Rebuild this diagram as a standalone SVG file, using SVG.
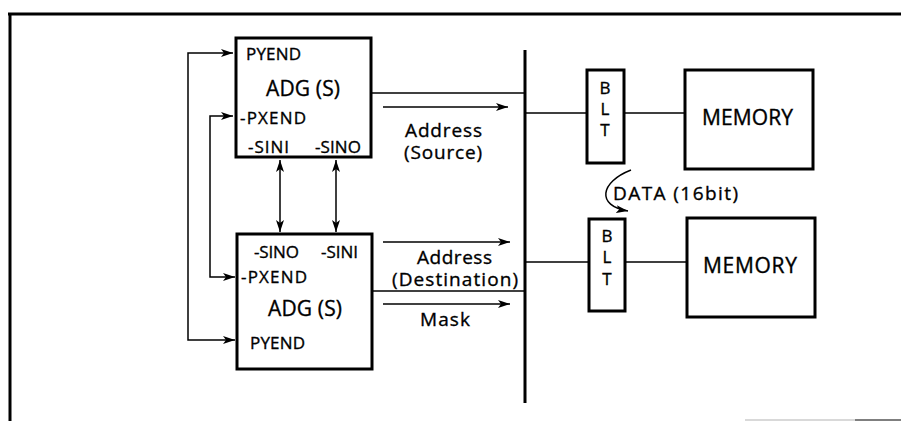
<svg xmlns="http://www.w3.org/2000/svg" width="901" height="421" viewBox="0 0 901 421">
<defs>
<marker id="ah" viewBox="0 0 12 8" refX="12" refY="4" markerWidth="12" markerHeight="8" markerUnits="userSpaceOnUse" orient="auto-start-reverse">
<path d="M0,0 L12,4 L0,8 L3,4 Z" fill="#000"/>
</marker>
</defs>
<style>
.t{font-family:"Open Sans","Liberation Sans",sans-serif;fill:#000;stroke:#000;stroke-width:0.35}
.s{font-size:17px}
.b{font-size:17px}
.m{font-size:19px}
.l{font-size:21px}
.box{fill:#fff;stroke:#000;stroke-width:3}
.ln{fill:none;stroke:#000;stroke-width:1.5}
.bus{fill:none;stroke:#000;stroke-width:3}
</style>
<rect width="901" height="421" fill="#fff"/>
<g id="frame">
<path d="M8,14 H901 M10,14 V421" class="bus"/>
<path d="M745,420 H855" stroke="#ccc" stroke-width="1.5"/>
<path d="M855,420 H901" stroke="#555" stroke-width="1.5"/>
</g>
<g id="connectors">
<path class="bus" d="M525,50 V403"/>
<path class="ln" d="M371,93 H525"/>
<path class="ln" d="M372,291 H525"/>
<path class="ln" d="M525,113 H587 M624,113 H685"/>
<path class="ln" d="M525,262 H589 M625,262 H687"/>
<path class="ln" d="M383,107 H508" marker-end="url(#ah)"/>
<path class="ln" d="M383,242 H510" marker-end="url(#ah)"/>
<path class="ln" d="M383,304 H510" marker-end="url(#ah)"/>
<path class="ln" d="M233,53 H188 V340 H235" marker-start="url(#ah)" marker-end="url(#ah)"/>
<path class="ln" d="M233,116 H210 V277 H235" marker-start="url(#ah)" marker-end="url(#ah)"/>
<path class="ln" d="M280,160 V232" marker-start="url(#ah)" marker-end="url(#ah)"/>
<path class="ln" d="M336,160 V232" marker-start="url(#ah)" marker-end="url(#ah)"/>
<path class="ln" d="M631,170 C600,182 596,206 628,211" marker-end="url(#ah)"/>
</g>
<g id="adg-src">
<rect class="box" x="236" y="38" width="135" height="119"/>
<text class="t s" x="246" y="60" textLength="55" lengthAdjust="spacing">PYEND</text>
<text class="t l" x="266" y="96" textLength="74" lengthAdjust="spacing">ADG (S)</text>
<text class="t s" x="240" y="124" textLength="66" lengthAdjust="spacing">-PXEND</text>
<text class="t s" x="248" y="153" textLength="41" lengthAdjust="spacing">-SINI</text>
<text class="t s" x="315" y="153" textLength="46" lengthAdjust="spacing">-SINO</text>
</g>
<g id="adg-dst">
<rect class="box" x="237" y="234" width="135" height="135"/>
<text class="t s" x="254" y="258" textLength="45" lengthAdjust="spacing">-SINO</text>
<text class="t s" x="321" y="258" textLength="37" lengthAdjust="spacing">-SINI</text>
<text class="t s" x="241" y="283" textLength="66" lengthAdjust="spacing">-PXEND</text>
<text class="t l" x="268" y="316" textLength="74" lengthAdjust="spacing">ADG (S)</text>
<text class="t s" x="250" y="349" textLength="55" lengthAdjust="spacing">PYEND</text>
</g>
<g id="label-src">
<text class="t m" x="405" y="137" textLength="77" lengthAdjust="spacing">Address</text>
<text class="t m" x="404" y="159" textLength="78" lengthAdjust="spacing">(Source)</text>
</g>
<g id="label-dst">
<text class="t m" x="417" y="264" textLength="75" lengthAdjust="spacing">Address</text>
<text class="t m" x="392" y="286" textLength="126" lengthAdjust="spacing">(Destination)</text>
<text class="t m" x="420" y="326" textLength="50" lengthAdjust="spacing">Mask</text>
</g>
<g id="blt1">
<rect class="box" x="587" y="70" width="37" height="93"/>
<text class="t b" x="605" y="94" text-anchor="middle">B</text>
<text class="t b" x="605" y="115" text-anchor="middle">L</text>
<text class="t b" x="605" y="136" text-anchor="middle">T</text>
</g>
<g id="mem1">
<rect class="box" x="685" y="70" width="128" height="99"/>
<text class="t l" x="702" y="125" textLength="91" lengthAdjust="spacing">MEMORY</text>
</g>
<g id="blt2">
<rect class="box" x="589" y="219" width="36" height="92"/>
<text class="t b" x="607" y="242" text-anchor="middle">B</text>
<text class="t b" x="607" y="263" text-anchor="middle">L</text>
<text class="t b" x="607" y="285" text-anchor="middle">T</text>
</g>
<g id="mem2">
<rect class="box" x="687" y="218" width="128" height="99"/>
<text class="t l" x="703" y="273" textLength="94" lengthAdjust="spacing">MEMORY</text>
</g>
<g id="data-label">
<text class="t m" x="613" y="200" textLength="125" lengthAdjust="spacing">DATA (16bit)</text>
</g>
</svg>
